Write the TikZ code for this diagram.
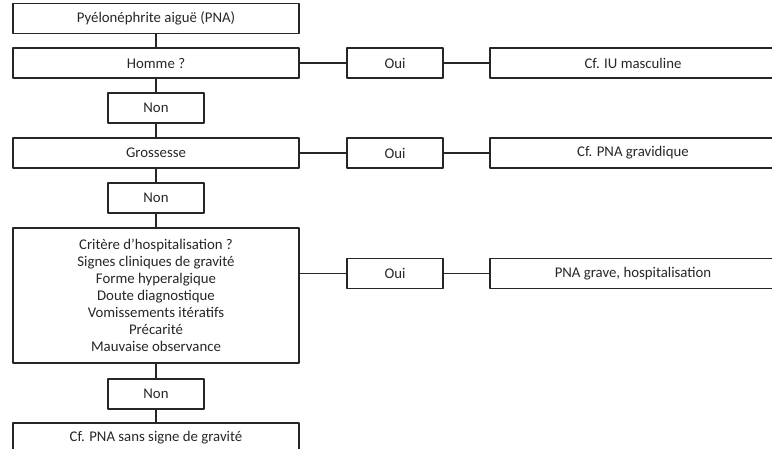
\documentclass[tikz,border=0pt]{standalone}
\usepackage{fontspec}
\setmainfont{Carlito}
\begin{document}
\begin{tikzpicture}[x=1pt,y=-1pt,line join=round,line width=1.4pt,draw=black!85,
    every node/.style={draw=black!85,inner sep=0pt,text=black!85,
      font=\fontsize{14.8}{17}\selectfont},
    wide/.style={minimum width=286pt,minimum height=30pt},
    small/.style={minimum width=96pt,minimum height=30pt}]
  \useasboundingbox (0,0) rectangle (772,449);
  \clip (0,0) rectangle (772,449);
  % left column
  \node[wide] (pna) at (156,18.5) {Pyélonéphrite aiguë (PNA)};
  \node[wide] (homme) at (156,63) {Homme ?};
  \node[small] (non1) at (156,108) {Non};
  \node[wide] (gross) at (156,153) {Grossesse};
  \node[small] (non2) at (156,198) {Non};
  \node[wide,minimum height=135pt,align=center] (crit) at (156,295.5)
    {Critère d’hospitalisation ?\\Signes cliniques de gravité\\Forme hyperalgique\\
     Doute diagnostique\\Vomissements itératifs\\Précarité\\Mauvaise observance};
  \node[small] (non3) at (156,394) {Non};
  \node[wide] (sans) at (156,438) {Cf. PNA sans signe de gravité};
  % right side
  \node[small] (oui1) at (395,63) {Oui};
  \node[wide] (iu) at (633,63) {Cf. IU masculine};
  \node[small] (oui2) at (395,153) {Oui};
  \node[wide] (grav) at (633,153) {Cf. PNA gravidique};
  \node[small] (oui3) at (395,273.5) {Oui};
  \node[wide] (hosp) at (633,273.5) {PNA grave, hospitalisation};
  \draw (pna) -- (homme) -- (non1) -- (gross) -- (non2) -- (crit) -- (non3) -- (sans);
  \draw (homme) -- (oui1) -- (iu);
  \draw (gross) -- (oui2) -- (grav);
  \draw (oui3.west -| crit.east) -- (oui3) -- (hosp);
\end{tikzpicture}
\end{document}
